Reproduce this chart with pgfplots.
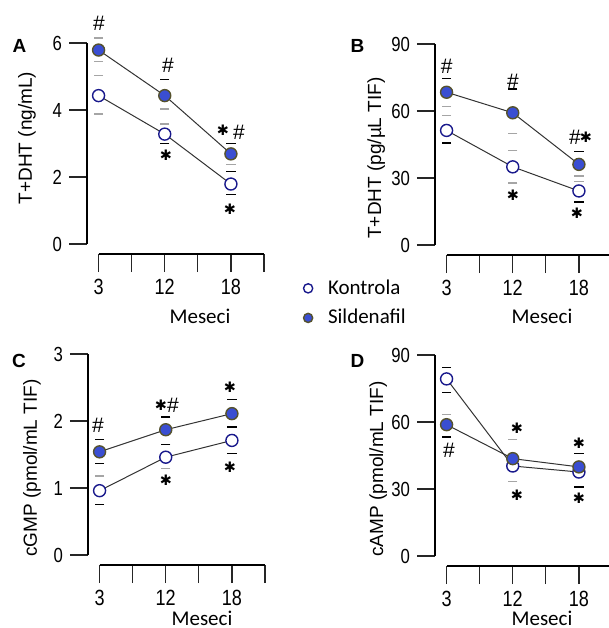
\documentclass[border=0pt]{standalone}
\usepackage{pgfplots}
\pgfplotsset{compat=1.18}
\usepackage{fontspec}
\setmainfont{Liberation Sans}
\newfontfamily\narrowfont[FakeStretch=0.82]{Liberation Sans}
\newfontfamily\carlito{Carlito}
\newfontfamily\djv{DejaVu Sans}
\definecolor{sild}{RGB}{58,78,210}
\definecolor{sildedge}{RGB}{85,82,45}
\definecolor{kontedge}{RGB}{25,25,140}
\definecolor{capgray}{RGB}{165,165,165}
\newcommand\sig{{\djv\fontsize{7.2}{7.2}\selectfont ✱}}
\newcommand\hs{{\fontsize{10.5}{10.5}\selectfont\#}}
\pgfplotsset{
 panel/.style={
  scale only axis, width=88.5pt, height=100.5pt,
  xmin=-0.35, xmax=5, ymin=0,
  axis y line=left, axis x line=bottom,
  axis x line shift=5pt,
  axis line style={-, line width=0.6pt, black},
  x axis line style={shorten <=5.8pt},
  tick align=outside, major tick length=9pt,
  tick style={line width=0.6pt, black!85},
  xtick={0,1,2,3,4,5}, xticklabels={3,,12,,18,},
  xticklabel style={font=\narrowfont\fontsize{11}{12}\selectfont},
  yticklabel style={font=\narrowfont\fontsize{10.2}{12}\selectfont},
  /pgf/number format/assume math mode=true,
  clip=false,
 },
 kont/.style={line width=0.5pt, black!80, mark=*, mark size=3pt, mark options={fill=white, draw=kontedge, line width=0.7pt}},
 sil/.style={line width=0.5pt, black!80, mark=*, mark size=3pt, mark options={fill=sild, draw=sildedge, line width=0.7pt}},
 capk/.style={only marks, mark=-, mark size=2.3pt, mark options={draw=black, line width=0.6pt}, forget plot},
 capg/.style={only marks, mark=-, mark size=2.3pt, mark options={draw=capgray, line width=0.6pt}, forget plot},
}
\begin{document}
\begin{tikzpicture}
\useasboundingbox (0,0) rectangle (304.5pt,-314pt);
% ---------------- A
\begin{axis}[panel, at={(43.5pt,-122pt)}, anchor=south west, ymax=6, ytick={0,2,4,6}]
\addplot[capg] coordinates {(0,6.15) (0,5.45) (0,5.02) (0,3.88) (2,4.03) (2,3.58) (4,2.38)};
\addplot[capk] coordinates {(2,4.91) (2,3.0) (4,3.0) (4,2.17) (4,1.47)};
\addplot[kont] coordinates {(0,4.43) (2,3.28) (4,1.79)};
\addplot[sil] coordinates {(0,5.79) (2,4.43) (4,2.69)};
\end{axis}
% ---------------- B
\begin{axis}[panel, at={(217.5pt,-122.5pt)}, anchor=south west, ymax=90, ytick={0,30,60,90},
  legend style={at={(-0.745,-0.15)}, anchor=north west, draw=none, fill=none, inner sep=0pt,
    row sep=2pt, font=\carlito\fontsize{10.5}{12}\selectfont, cells={anchor=west}},
  legend image code/.code={\draw[#1, mark size=2.3pt] plot coordinates {(0cm,0cm)}; \path (0.27cm,0cm);}]
\addplot[capg] coordinates {(0,62.0) (0,58.0) (2,50.1) (2,42.4) (2,27.8) (4,30.9) (4,28.3)};
\addplot[capk] coordinates {(0,74.4) (0,45.7) (2,69.9) (4,41.7) (4,19.3)};
\addplot[kont] coordinates {(0,51.3) (2,35.0) (4,24.2)};
\addplot[sil] coordinates {(0,68.4) (2,59.2) (4,36.1)};
\legend{Kontrola,Sildenafil}
\end{axis}
% ---------------- C
\begin{axis}[panel, at={(44pt,-277.5pt)}, anchor=south west, ymax=3, ytick={0,1,2,3}]
\addplot[capg] coordinates {(0,1.18) (2,1.29)};
\addplot[capk] coordinates {(0,1.73) (0,1.36) (0,0.75) (2,2.06) (2,1.65) (4,2.32) (4,1.91) (4,1.51)};
\addplot[kont] coordinates {(0,0.96) (2,1.46) (4,1.71)};
\addplot[sil] coordinates {(0,1.54) (2,1.87) (4,2.11)};
\end{axis}
% ---------------- D
\begin{axis}[panel, at={(217.5pt,-278pt)}, anchor=south west, ymax=90, ytick={0,30,60,90}]
\addplot[capg] coordinates {(0,63.4) (2,52.1) (2,33.2)};
\addplot[capk] coordinates {(0,84.5) (0,73.2) (0,53.3) (4,45.8) (4,30.9)};
\addplot[kont] coordinates {(0,79.3) (2,40.3) (4,37.6)};
\addplot[sil] coordinates {(0,58.8) (2,43.6) (4,39.9)};
\end{axis}
% ---------------- labels
\begin{scope}[every node/.style={inner sep=0pt}]
\node[font=\bfseries\fontsize{9.5}{10}\selectfont] at (9.75pt,-23pt) {A};
\node[font=\bfseries\fontsize{9.5}{10}\selectfont] at (178.75pt,-23pt) {B};
\node[font=\bfseries\fontsize{9.5}{10}\selectfont] at (9.5pt,-180.5pt) {C};
\node[font=\bfseries\fontsize{9.5}{10}\selectfont] at (178.75pt,-180.5pt) {D};
\node[rotate=90, anchor=base, font=\fontsize{9.5}{10}\selectfont] at (16pt,-69pt) {T+DHT (ng/mL)};
\node[rotate=90, anchor=base, font=\fontsize{9.5}{10}\selectfont] at (190.5pt,-79pt) {T+DHT (pg/µL TIF)};
\node[rotate=90, anchor=base, font=\fontsize{9.5}{10}\selectfont] at (18.5pt,-234pt) {cGMP (pmol/mL TIF)};
\node[rotate=90, anchor=base, font=\fontsize{9.5}{10}\selectfont] at (191.5pt,-234.5pt) {cAMP (pmol/mL TIF)};
\node[anchor=base, font=\carlito\fontsize{10.5}{12}\selectfont] at (100pt,-161.5pt) {Meseci};
\node[anchor=base, font=\carlito\fontsize{10.5}{12}\selectfont] at (271pt,-161.5pt) {Meseci};
\node[anchor=base, font=\carlito\fontsize{10.5}{12}\selectfont] at (101pt,-312.5pt) {Meseci};
\node[anchor=base, font=\carlito\fontsize{10.5}{12}\selectfont] at (271pt,-312.5pt) {Meseci};
% annotations A
\node at (49.5pt,-11.5pt) {\hs};
\node at (84pt,-32.5pt) {\hs};
\node at (111.5pt,-65pt) {\sig};
\node at (119.5pt,-66pt) {\hs};
\node at (83pt,-77.5pt) {\sig};
\node at (115pt,-104.5pt) {\sig};
% annotations B
\node at (223.3pt,-33.3pt) {\hs};
\node at (256.5pt,-40.8pt) {\hs};
\node at (287.5pt,-68.5pt) {\hs};
\node at (293pt,-68.5pt) {\sig};
\node at (256.5pt,-97.5pt) {\sig};
\node at (288.5pt,-106.5pt) {\sig};
% annotations C
\node at (49pt,-212.5pt) {\hs};
\node at (80.5pt,-202.5pt) {\sig};
\node at (86.5pt,-202.5pt) {\hs};
\node at (115pt,-193.5pt) {\sig};
\node at (83pt,-240pt) {\sig};
\node at (115pt,-233.5pt) {\sig};
% annotations D
\node at (224.5pt,-225pt) {\hs};
\node at (258.5pt,-214pt) {\sig};
\node at (258.5pt,-247.5pt) {\sig};
\node at (289.5pt,-221.5pt) {\sig};
\node at (289.5pt,-249pt) {\sig};
\end{scope}
\end{tikzpicture}
\end{document}
